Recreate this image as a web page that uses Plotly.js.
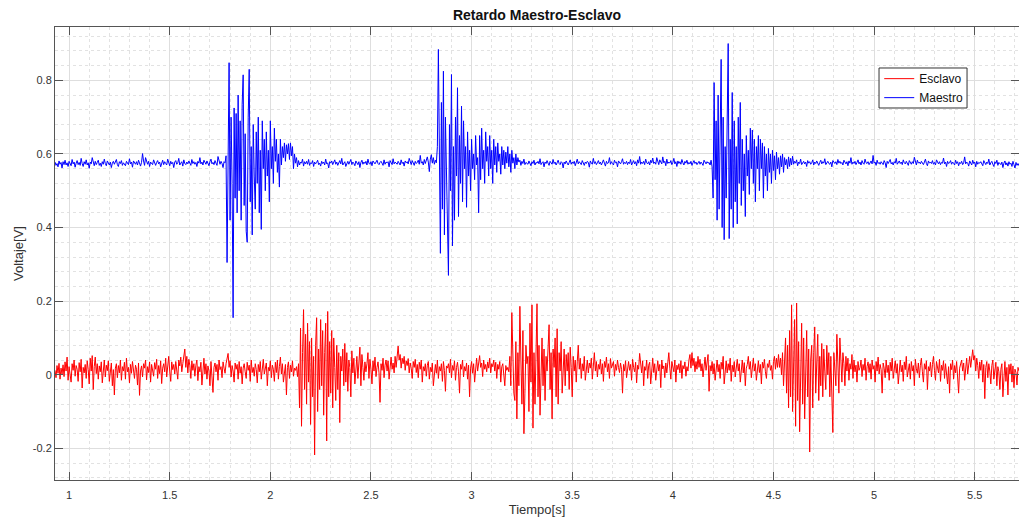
<!DOCTYPE html>
<html>
<head>
<meta charset="utf-8">
<script src="https://cdn.plot.ly/plotly-3.0.1.min.js"></script>
<style>html,body{margin:0;padding:0;background:#fff;}#chart{width:1019px;height:523px;}</style>
</head>
<body>
<div id="chart"></div>
<script>
// Sampling of both signals (seconds)
const T_START = 0.93;
const T_STEP = 0.005;

// Maestro signal values (V)
const maestro = [
0.578,0.569,0.574,0.565,0.581,0.572,0.577,0.562,0.579,0.571,
0.583,0.570,0.576,0.566,0.580,0.574,0.568,0.585,0.573,0.578,
0.564,0.575,0.582,0.571,0.577,0.569,0.588,0.574,0.566,0.579,
0.572,0.584,0.570,0.576,0.561,0.578,0.573,0.590,0.575,0.568,
0.580,0.571,0.577,0.583,0.569,0.575,0.566,0.579,0.572,0.586,
0.574,0.568,0.581,0.576,0.570,0.578,0.563,0.575,0.580,0.572,
0.577,0.585,0.571,0.566,0.579,0.574,0.582,0.569,0.576,0.573,
0.568,0.580,0.575,0.571,0.587,0.573,0.578,0.564,0.581,0.576,
0.572,0.579,0.570,0.583,0.574,0.567,0.577,0.601,0.581,0.569,
0.590,0.576,0.572,0.580,0.566,0.578,0.574,0.571,0.584,0.575,
0.569,0.577,0.582,0.573,0.578,0.565,0.576,0.583,0.571,0.579,
0.574,0.570,0.586,0.575,0.568,0.580,0.573,0.577,0.563,0.578,
0.582,0.572,0.576,0.588,0.570,0.575,0.579,0.567,0.584,0.574,
0.571,0.578,0.573,0.581,0.576,0.569,0.585,0.574,0.579,0.572,
0.577,0.566,0.580,0.575,0.590,0.573,0.578,0.570,0.583,0.576,
0.572,0.581,0.574,0.568,0.579,0.586,0.573,0.577,0.571,0.582,
0.575,0.569,0.593,0.578,0.572,0.580,0.574,0.563,0.579,0.576,
0.595,0.305,0.670,0.848,0.420,0.700,0.520,0.155,0.725,0.480,
0.710,0.440,0.760,0.500,0.690,0.420,0.735,0.815,0.460,0.655,
0.390,0.360,0.700,0.830,0.470,0.620,0.380,0.680,0.540,0.450,
0.660,0.520,0.700,0.440,0.610,0.395,0.690,0.560,0.640,0.500,
0.660,0.540,0.610,0.470,0.690,0.560,0.620,0.520,0.670,0.580,
0.640,0.550,0.600,0.510,0.640,0.570,0.620,0.590,0.630,0.580,
0.625,0.600,0.628,0.585,0.630,0.595,0.620,0.560,0.600,0.575,
0.590,0.565,0.582,0.570,0.578,0.575,0.586,0.567,0.579,0.573,
0.580,0.572,0.585,0.569,0.576,0.574,0.582,0.566,0.578,0.573,
0.577,0.583,0.571,0.575,0.567,0.580,0.574,0.578,0.570,0.586,
0.573,0.576,0.562,0.579,0.575,0.581,0.571,0.577,0.584,0.572,
0.578,0.569,0.575,0.582,0.573,0.588,0.570,0.576,0.579,0.566,
0.574,0.580,0.572,0.577,0.585,0.571,0.578,0.574,0.568,0.581,
0.575,0.571,0.579,0.563,0.577,0.583,0.572,0.578,0.574,0.580,
0.570,0.586,0.575,0.572,0.579,0.568,0.581,0.576,0.573,0.578,
0.583,0.574,0.571,0.577,0.580,0.575,0.569,0.584,0.572,0.578,
0.576,0.579,0.565,0.582,0.574,0.571,0.587,0.573,0.578,0.575,
0.572,0.580,0.576,0.570,0.584,0.574,0.578,0.567,0.581,0.576,
0.579,0.573,0.588,0.575,0.571,0.582,0.576,0.569,0.580,0.574,
0.577,0.583,0.572,0.596,0.575,0.579,0.570,0.585,0.574,0.581,
0.592,0.578,0.552,0.586,0.598,0.575,0.590,0.572,0.583,0.576,
0.620,0.884,0.500,0.330,0.740,0.450,0.825,0.380,0.700,0.520,
0.400,0.270,0.680,0.500,0.816,0.350,0.620,0.420,0.700,0.540,
0.780,0.430,0.650,0.520,0.730,0.470,0.690,0.560,0.620,0.455,
0.660,0.540,0.610,0.500,0.640,0.560,0.600,0.530,0.650,0.570,
0.590,0.440,0.650,0.530,0.670,0.560,0.610,0.520,0.660,0.580,
0.620,0.540,0.650,0.560,0.610,0.520,0.640,0.570,0.620,0.550,
0.630,0.580,0.600,0.545,0.620,0.570,0.610,0.560,0.605,0.575,
0.620,0.565,0.600,0.550,0.610,0.575,0.590,0.560,0.600,0.570,
0.590,0.578,0.583,0.569,0.580,0.574,0.586,0.571,0.577,0.575,
0.572,0.581,0.576,0.568,0.579,0.574,0.583,0.570,0.577,0.575,
0.580,0.573,0.587,0.571,0.576,0.579,0.565,0.578,0.574,0.582,
0.575,0.569,0.580,0.577,0.572,0.585,0.574,0.578,0.570,0.576,
0.583,0.574,0.571,0.579,0.576,0.562,0.578,0.573,0.581,0.575,
0.570,0.577,0.584,0.572,0.578,0.574,0.580,0.568,0.576,0.586,
0.573,0.579,0.575,0.571,0.582,0.576,0.569,0.578,0.574,0.580,
0.577,0.564,0.581,0.575,0.572,0.588,0.574,0.579,0.571,0.576,
0.582,0.573,0.578,0.570,0.576,0.584,0.575,0.567,0.580,0.574,
0.576,0.590,0.572,0.579,0.574,0.570,0.583,0.576,0.578,0.565,
0.581,0.575,0.573,0.579,0.587,0.572,0.577,0.574,0.580,0.571,
0.578,0.574,0.585,0.570,0.576,0.582,0.573,0.579,0.568,0.584,
0.575,0.593,0.572,0.578,0.574,0.580,0.571,0.586,0.576,0.573,
0.579,0.570,0.583,0.576,0.589,0.574,0.578,0.572,0.590,0.575,
0.571,0.584,0.577,0.573,0.592,0.576,0.580,0.568,0.586,0.574,
0.578,0.575,0.582,0.571,0.577,0.588,0.573,0.579,0.566,0.581,
0.574,0.579,0.572,0.585,0.576,0.570,0.580,0.575,0.583,0.572,
0.577,0.573,0.580,0.569,0.576,0.582,0.574,0.578,0.571,0.575,
0.580,0.572,0.578,0.574,0.569,0.583,0.576,0.573,0.579,0.575,
0.577,0.570,0.583,0.565,0.480,0.794,0.530,0.690,0.420,0.760,
0.450,0.620,0.857,0.400,0.700,0.367,0.620,0.480,0.750,0.900,
0.370,0.640,0.450,0.767,0.400,0.690,0.470,0.620,0.410,0.700,
0.520,0.740,0.460,0.640,0.500,0.600,0.430,0.650,0.540,0.610,
0.490,0.670,0.560,0.665,0.520,0.640,0.470,0.620,0.560,0.650,
0.500,0.640,0.560,0.630,0.480,0.620,0.540,0.600,0.500,0.615,
0.550,0.600,0.520,0.610,0.555,0.595,0.530,0.605,0.560,0.590,
0.545,0.595,0.565,0.600,0.550,0.590,0.570,0.585,0.560,0.592,
0.566,0.588,0.570,0.594,0.572,0.580,0.575,0.584,0.568,0.578,
0.574,0.586,0.571,0.577,0.580,0.573,0.578,0.566,0.582,0.575,
0.579,0.572,0.576,0.584,0.570,0.578,0.574,0.581,0.575,0.569,
0.577,0.583,0.573,0.579,0.575,0.587,0.571,0.576,0.580,0.574,
0.572,0.578,0.565,0.582,0.576,0.574,0.579,0.571,0.585,0.575,
0.580,0.574,0.577,0.570,0.583,0.576,0.573,0.579,0.568,0.581,
0.575,0.590,0.572,0.578,0.574,0.580,0.571,0.577,0.584,0.573,
0.578,0.570,0.582,0.575,0.572,0.586,0.576,0.574,0.579,0.571,
0.576,0.581,0.573,0.596,0.575,0.578,0.569,0.583,0.574,0.577,
0.572,0.579,0.575,0.571,0.582,0.576,0.563,0.580,0.574,0.578,
0.585,0.573,0.577,0.570,0.579,0.575,0.588,0.572,0.576,0.581,
0.574,0.578,0.571,0.584,0.576,0.573,0.580,0.575,0.569,0.582,
0.577,0.572,0.579,0.574,0.591,0.576,0.570,0.583,0.575,0.578,
0.573,0.580,0.576,0.571,0.578,0.586,0.574,0.568,0.581,0.575,
0.578,0.574,0.582,0.572,0.577,0.570,0.584,0.576,0.573,0.579,
0.571,0.577,0.575,0.589,0.573,0.578,0.566,0.580,0.574,0.576,
0.582,0.572,0.578,0.575,0.570,0.583,0.574,0.579,0.568,0.577,
0.574,0.580,0.571,0.576,0.592,0.573,0.578,0.575,0.567,0.581,
0.576,0.570,0.583,0.574,0.578,0.565,0.580,0.572,0.577,0.575,
0.579,0.573,0.568,0.582,0.575,0.571,0.578,0.574,0.586,0.570,
0.576,0.580,0.572,0.566,0.579,0.574,0.583,0.569,0.577,0.573,
0.571,0.578,0.563,0.575,0.581,0.570,0.576,0.567,0.579,0.572,
0.575,0.566,0.580,0.571,0.562,0.577,0.569,0.574,0.568
];

// Esclavo signal values (V)
const esclavo = [
0.012,-0.008,0.025,0.004,0.031,-0.012,0.018,0.002,0.027,-0.005,
0.035,0.010,0.048,-0.015,0.022,0.006,-0.020,0.030,0.012,0.040,
-0.004,0.025,0.015,-0.018,0.033,0.008,0.042,-0.036,0.020,0.005,
0.028,-0.010,0.038,0.014,-0.025,0.045,0.010,0.052,-0.040,0.022,
0.048,0.003,0.030,-0.012,0.024,0.008,0.035,-0.022,0.015,0.040,
-0.006,0.026,0.011,0.038,-0.018,0.020,0.032,-0.030,0.014,-0.055,
0.018,0.030,-0.008,0.025,0.005,0.040,-0.015,0.022,0.010,0.034,
-0.012,0.045,0.008,0.020,-0.022,0.028,0.004,0.036,0.012,-0.010,
0.026,0.015,-0.028,0.032,-0.056,0.010,0.024,-0.006,0.030,0.018,
0.040,-0.014,0.022,0.006,0.035,-0.020,0.028,0.012,-0.004,0.033,
0.015,0.042,-0.010,0.025,0.003,0.038,-0.024,0.018,0.030,0.008,
0.045,-0.006,0.022,0.050,0.010,-0.018,0.035,0.014,0.028,0.002,
0.036,0.018,-0.012,0.040,0.024,0.048,0.008,0.030,0.055,0.070,
0.020,0.050,0.005,0.042,0.025,-0.010,0.038,0.012,0.030,-0.004,
0.026,0.040,-0.016,0.022,0.008,0.034,-0.028,0.018,0.045,0.002,
0.030,-0.012,0.024,0.010,-0.030,0.036,0.005,-0.048,0.020,0.032,
0.008,0.028,-0.015,0.040,0.014,0.022,-0.008,0.035,0.018,0.004,
0.030,0.045,0.058,0.020,0.038,-0.006,0.025,0.010,-0.020,0.032,
0.015,0.028,-0.012,0.036,0.004,0.022,-0.025,0.018,0.030,0.008,
-0.010,0.034,0.012,0.026,-0.018,0.040,0.006,0.020,-0.004,0.030,
0.014,-0.022,0.028,0.008,0.036,-0.012,0.024,0.042,0.002,0.018,
0.032,-0.030,0.020,0.010,0.038,-0.008,0.026,0.015,-0.018,0.034,
0.006,0.040,-0.012,0.022,0.048,0.002,0.030,-0.020,0.016,0.028,
-0.055,0.020,0.035,-0.010,0.026,0.008,0.038,-0.004,0.018,0.012,
0.022,-0.005,0.030,-0.090,0.127,-0.140,0.060,0.177,-0.040,0.110,
-0.080,0.140,-0.020,0.090,-0.135,0.100,-0.060,0.050,-0.218,0.080,
0.155,-0.100,0.070,-0.040,0.150,-0.030,0.120,-0.110,0.060,0.140,
-0.180,0.172,-0.060,0.090,-0.050,0.120,-0.090,0.100,0.020,-0.070,
0.080,-0.040,0.060,-0.130,0.050,0.010,0.070,-0.030,0.085,-0.020,
0.060,-0.045,0.040,0.020,-0.060,0.065,0.005,0.045,-0.025,0.030,
0.050,-0.010,0.040,0.075,-0.030,0.055,0.020,-0.015,0.035,0.008,
0.030,0.060,-0.010,0.042,0.015,-0.025,0.038,0.010,0.048,-0.005,
0.020,0.035,0.005,-0.075,0.030,0.012,0.045,-0.008,0.026,0.040,
0.010,0.038,-0.012,0.025,0.048,0.015,0.032,0.005,0.050,0.020,
0.060,0.078,0.040,0.055,0.018,0.045,0.030,0.050,0.012,0.038,
0.025,0.044,0.005,0.032,0.018,-0.010,0.036,0.020,0.042,0.006,
0.028,-0.008,0.034,0.015,0.040,-0.020,0.022,0.010,0.030,-0.004,
0.026,0.036,-0.012,0.020,0.008,0.032,-0.030,0.015,0.028,0.004,
0.040,-0.010,0.022,0.010,0.030,-0.018,0.036,0.012,-0.045,0.024,
0.018,0.030,0.005,0.042,-0.008,0.025,0.012,0.038,-0.015,0.020,
0.034,0.008,-0.050,0.028,0.015,0.040,-0.006,0.022,0.010,0.032,
-0.012,0.026,-0.060,0.018,0.036,0.004,0.030,-0.020,0.024,0.045,
0.010,0.038,0.052,0.020,0.032,-0.005,0.040,0.015,0.028,0.008,
0.035,0.018,0.045,0.005,0.030,0.022,0.040,0.010,0.034,-0.010,
0.028,0.015,0.036,-0.020,0.022,0.030,0.008,-0.030,0.025,0.012,
0.020,0.008,0.050,-0.030,0.169,0.020,-0.050,-0.070,0.090,-0.120,
0.060,-0.030,0.186,0.040,-0.080,0.120,-0.160,-0.050,0.080,0.030,
0.050,-0.100,0.140,-0.020,0.190,-0.145,0.060,-0.080,0.110,0.193,
-0.060,0.080,-0.110,0.040,0.100,-0.030,0.070,-0.070,0.050,0.010,
0.090,0.136,-0.040,0.060,-0.120,0.070,0.020,0.100,-0.060,0.125,
-0.080,0.060,0.010,0.090,-0.050,0.040,0.070,-0.030,0.055,0.010,
0.060,-0.040,0.075,0.020,-0.060,0.050,0.010,0.040,-0.020,0.035,
0.080,0.015,0.045,-0.010,0.030,0.010,0.050,-0.015,0.025,0.040,
0.005,0.032,0.018,0.045,-0.012,0.025,0.060,0.010,0.036,-0.006,
0.028,0.015,0.042,0.002,0.030,-0.018,0.036,0.020,0.048,0.008,
0.030,-0.010,0.044,0.018,0.025,0.036,-0.004,0.028,0.012,0.040,
0.020,0.006,0.032,0.015,-0.050,0.028,0.010,0.038,-0.008,0.024,
0.036,0.012,0.028,-0.015,0.042,0.020,0.008,0.034,-0.022,0.026,
0.015,0.058,0.030,0.005,0.038,-0.030,0.022,0.012,0.040,-0.010,
0.026,0.034,-0.025,0.018,0.045,0.006,0.030,-0.015,0.022,0.038,
0.010,0.028,-0.035,0.040,0.016,0.024,-0.008,0.032,0.005,0.030,
0.060,0.018,-0.012,0.036,0.022,0.008,0.040,-0.020,0.026,0.014,
0.030,0.005,0.038,-0.010,0.025,0.016,0.035,-0.004,0.022,0.010,
0.040,0.055,0.018,0.060,0.025,0.045,0.008,0.036,0.015,0.050,
0.020,0.042,0.010,0.030,-0.006,0.025,0.048,0.012,0.035,0.055,
-0.045,0.025,0.010,0.036,0.002,0.030,-0.015,0.022,0.040,0.008,
0.028,-0.010,0.034,0.015,0.050,-0.025,0.020,0.038,0.005,0.030,
0.012,0.045,-0.018,0.026,0.008,0.036,-0.006,0.022,0.042,0.010,
0.030,-0.020,0.024,0.040,0.005,0.033,-0.030,0.018,0.028,0.050,
0.015,0.036,-0.008,0.025,0.045,0.010,0.030,-0.015,0.022,0.038,
0.006,0.028,-0.025,0.034,0.018,0.042,0.008,-0.010,0.030,0.020,
0.040,0.012,0.025,-0.012,0.036,0.050,0.015,0.045,0.020,0.055,
0.020,0.045,0.000,0.060,-0.030,0.070,0.100,-0.050,0.080,-0.090,
0.120,-0.060,0.190,-0.100,0.060,0.150,-0.140,0.195,-0.070,0.090,
-0.155,0.050,0.140,-0.080,0.100,-0.120,0.030,0.120,-0.060,0.070,
-0.210,0.040,0.080,-0.090,0.060,0.130,-0.050,0.020,0.110,-0.070,
0.050,-0.030,0.085,-0.060,0.070,0.010,-0.040,0.080,0.000,0.060,
-0.060,0.050,-0.040,-0.157,0.060,0.020,-0.030,0.110,0.040,-0.050,
0.100,0.020,-0.020,0.060,0.030,-0.030,0.050,0.010,0.045,-0.015,
0.030,0.015,0.055,-0.010,0.040,0.008,0.026,-0.020,0.036,0.012,
0.020,0.040,-0.005,0.028,0.012,0.045,-0.015,0.022,0.035,0.006,
0.030,-0.012,0.040,0.015,0.025,-0.020,0.036,0.010,0.048,0.002,
0.028,0.014,-0.050,0.032,0.018,-0.008,0.040,0.006,0.026,-0.015,
0.034,0.010,0.045,-0.010,0.022,0.038,0.004,0.030,-0.025,0.018,
0.040,0.008,0.026,-0.018,0.035,0.014,0.050,-0.006,0.022,0.030,
-0.012,0.036,0.010,0.025,-0.030,0.042,0.016,0.004,0.032,-0.008,
0.026,0.045,0.008,-0.020,0.030,0.015,0.038,-0.040,0.022,0.010,
0.034,-0.006,0.028,0.050,0.012,-0.015,0.036,0.020,0.005,0.042,
-0.018,0.026,0.012,0.038,-0.010,0.030,0.008,-0.025,0.022,-0.050,
0.030,0.014,0.040,-0.012,0.025,0.005,0.036,-0.020,-0.050,0.018,
0.028,0.040,0.010,0.032,-0.015,0.024,0.045,0.002,0.030,0.050,
0.020,0.055,0.068,0.040,0.052,0.010,0.045,0.025,-0.010,0.035,
0.012,0.040,-0.020,0.028,-0.065,0.020,0.036,-0.008,0.030,0.010,
-0.025,0.025,0.040,-0.012,0.018,0.034,-0.030,0.022,0.008,-0.040,
0.015,0.030,-0.060,0.010,0.036,-0.018,0.020,-0.055,0.028,0.002,
0.030,-0.020,0.024,-0.035,0.015,0.006,-0.028,0.020,0.010
];

// Axis ticks
const xTickVals = [1, 1.5, 2, 2.5, 3, 3.5, 4, 4.5, 5, 5.5];
const xTickText = ["1", "1.5", "2", "2.5", "3", "3.5", "4", "4.5", "5", "5.5"];
const yTickVals = [-0.2, 0, 0.2, 0.4, 0.6, 0.8];
const yTickText = ["-0.2", "0", "0.2", "0.4", "0.6", "0.8"];

const FONT = '"Liberation Sans", Arial, Helvetica, sans-serif';
const AXIS_COLOR = '#555555';
const GRID = '#dedede';
const MINOR_GRID = '#e2e2e2';

const traces = [
  {
    type: 'scatter', mode: 'lines', name: 'Esclavo',
    x0: T_START, dx: T_STEP, y: esclavo,
    line: {color: '#ff0000', width: 1}
  },
  {
    type: 'scatter', mode: 'lines', name: 'Maestro',
    x0: T_START, dx: T_STEP, y: maestro,
    line: {color: '#0000ff', width: 1}
  }
];

const axisCommon = {
  showline: true, linecolor: AXIS_COLOR, linewidth: 1, mirror: 'ticks',
  ticks: 'inside', ticklen: 8, tickwidth: 1, tickcolor: AXIS_COLOR,
  showgrid: true, gridcolor: GRID, gridwidth: 1,
  zeroline: false,
  tickfont: {family: FONT, size: 11, color: '#333333'},
  tickmode: 'array'
};

const layout = {
  width: 1019, height: 523,
  margin: {l: 55, r: 0, t: 27, b: 43, pad: 0},
  paper_bgcolor: '#ffffff', plot_bgcolor: '#ffffff',
  font: {family: FONT, color: '#333333'},
  showlegend: true,
  title: {
    text: '<b>Retardo Maestro-Esclavo</b>',
    font: {family: FONT, size: 14, color: '#111111'},
    xref: 'paper', x: 0.5, xanchor: 'center',
    yref: 'container', y: 0.971, yanchor: 'middle'
  },
  xaxis: Object.assign({}, axisCommon, {
    range: [0.93, 5.72],
    tickvals: xTickVals, ticktext: xTickText,
    ticklabelstandoff: 5,
    minor: {dtick: 0.1, tick0: 0, showgrid: true, gridcolor: MINOR_GRID, griddash: 'dot', gridwidth: 1, ticks: ''},
    title: {text: 'Tiempo[s]', font: {family: FONT, size: 13, color: '#333333'}, standoff: 4}
  }),
  yaxis: Object.assign({}, axisCommon, {
    range: [-0.286, 0.945],
    tickvals: yTickVals, ticktext: yTickText,
    minor: {dtick: 0.04, tick0: 0, showgrid: true, gridcolor: MINOR_GRID, griddash: 'dot', gridwidth: 1, ticks: ''},
    title: {text: 'Voltaje[V]', font: {family: FONT, size: 13, color: '#333333'}, standoff: 6}
  }),
  legend: {
    x: 0.855, y: 0.918, xanchor: 'left', yanchor: 'top',
    bgcolor: 'rgba(0,0,0,0)', borderwidth: 0,
    font: {family: FONT, size: 12, color: '#111111'},
    tracegroupgap: 0, itemwidth: 30
  },
  shapes: [{
    type: 'rect', xref: 'paper', yref: 'paper', layer: 'above',
    x0: 0.8548, x1: 0.9461, y0: 0.8212, y1: 0.9095,
    fillcolor: '#ffffff', line: {color: '#333333', width: 1}
  }],
  hovermode: false
};

Plotly.newPlot('chart', traces, layout, {displayModeBar: false, staticPlot: true});
</script>
</body>
</html>
